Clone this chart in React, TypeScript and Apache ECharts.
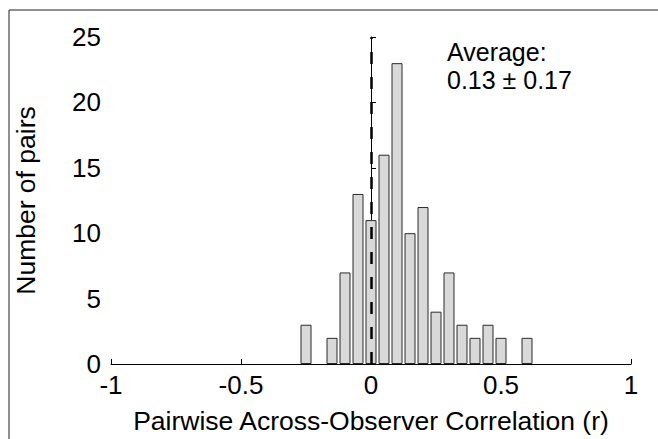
import React, { useEffect, useRef } from "react";
import * as echarts from "echarts";

const binCenters = [-0.25, -0.15, -0.1, -0.05, 0, 0.05, 0.1, 0.15, 0.2, 0.25, 0.3, 0.35, 0.4, 0.45, 0.5, 0.6];
const counts = [3, 2, 7, 13, 11, 16, 23, 10, 12, 4, 7, 3, 2, 3, 2, 2];
const xTicks = [-1, -0.5, 0, 0.5, 1];
const yTicks = [0, 5, 10, 15, 20, 25];
const xTitle = "Pairwise Across-Observer Correlation (r)";
const yTitle = "Number of pairs";
const annotation = ["Average:", "0.13 ± 0.17"];
const meanLineX = 0;

const FONT = "Liberation Sans, Arial, Helvetica, sans-serif";

export default function App() {
  const ref = useRef<HTMLDivElement>(null);
  useEffect(() => {
    document.body.style.margin = "0";
    const chart = echarts.init(ref.current!, null, { renderer: "svg" });
    chart.setOption({
      animation: false,
      backgroundColor: "#ffffff",
      grid: { left: 111, right: 27, top: 37, bottom: 72, containLabel: false },
      xAxis: {
        type: "value",
        min: xTicks[0],
        max: xTicks[xTicks.length - 1],
        interval: 0.5,
        axisLine: { show: true, onZero: false, lineStyle: { color: "#000", width: 1 } },
        axisTick: { show: true, inside: true, length: 5, lineStyle: { color: "#000" } },
        splitLine: { show: false },
        axisLabel: {
          color: "#000",
          fontFamily: FONT,
          fontSize: 26,
          margin: 8,
          formatter: (v: number) => String(v),
        },
        name: xTitle,
        nameLocation: "middle",
        nameGap: 43,
        nameTextStyle: { color: "#000", fontFamily: FONT, fontSize: 26.5 },
      },
      yAxis: {
        type: "value",
        min: yTicks[0],
        max: yTicks[yTicks.length - 1],
        interval: 5,
        axisLine: { show: true, lineStyle: { color: "#000", width: 1 } },
        axisTick: { show: true, inside: true, length: 5, lineStyle: { color: "#000" } },
        splitLine: { show: false },
        axisLabel: { color: "#000", fontFamily: FONT, fontSize: 26, margin: 10 },
        name: yTitle,
        nameLocation: "middle",
        nameGap: 72,
        nameTextStyle: { color: "#000", fontFamily: FONT, fontSize: 26.5 },
      },
      series: [
        {
          type: "bar",
          data: binCenters.map((c, i) => [c, counts[i]]),
          barWidth: 11,
          itemStyle: { color: "#d9d9d9", borderColor: "#2a2a2a", borderWidth: 1 },
          markLine: {
            silent: true,
            symbol: "none",
            label: { show: false },
            lineStyle: { color: "#000", width: 2.5, type: [12, 13] },
            data: [{ xAxis: meanLineX }],
          },
        },
      ],
      graphic: [
        ...annotation.map((t, i) => ({
          type: "text",
          left: 447,
          top: 39 + i * 28,
          style: {
            text: t,
            fontFamily: FONT,
            fontSize: 25,
            lineHeight: 25,
            fill: "#000",
          },
        })),
        { type: "line", shape: { x1: 9, y1: 10, x2: 658, y2: 10 }, style: { stroke: "#222", lineWidth: 1 } },
        { type: "line", shape: { x1: 9, y1: 10, x2: 9, y2: 439 }, style: { stroke: "#222", lineWidth: 1 } },
      ],
    });
    return () => chart.dispose();
  }, []);
  return <div ref={ref} style={{ width: 658, height: 439 }} />;
}
